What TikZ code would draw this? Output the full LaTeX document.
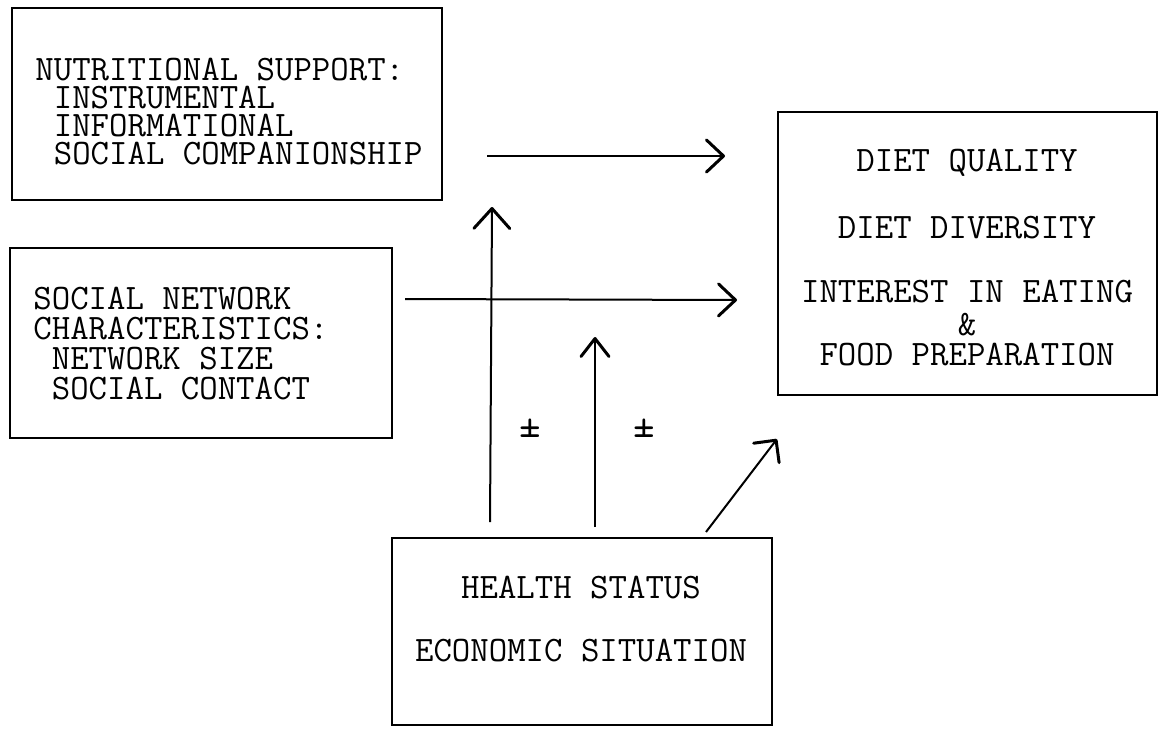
\documentclass[tikz,border=0pt]{standalone}
\usepackage{fontspec}
\usetikzlibrary{arrows.meta}
\begin{document}
\begin{tikzpicture}[x=0.5pt,y=-0.5pt,
  box/.style={draw, line width=1.2pt, inner sep=0pt},
  txt/.style={inner sep=0pt, font=\ttfamily\fontsize{17.9pt}{#1}\selectfont},
  txt/.default={14pt},
  sign/.style={inner sep=0pt, font=\ttfamily\fontsize{21pt}{21pt}\selectfont},
  link/.style={line width=1pt, -{Straight Barb[length=#1, round, line width=1.5pt]}},
  link/.default={8.5pt,width=16pt}]
\useasboundingbox (0,0) rectangle (1160,728);
% boxes
\node[box, minimum width=215pt, minimum height=96pt] (ns) at (227,104) {};
\node[box, minimum width=191pt, minimum height=95pt] (sn) at (201,343) {};
\node[box, minimum width=189.5pt, minimum height=141.5pt] (dq) at (967.5,253.5) {};
\node[box, minimum width=190pt, minimum height=93.5pt] (hs) at (582,631.5) {};
% texts
\node[txt, align=left, anchor=north west] (nstxt) at (35,58)
  {NUTRITIONAL SUPPORT:\\\phantom{N}INSTRUMENTAL\\\phantom{N}INFORMATIONAL\\\phantom{N}SOCIAL COMPANIONSHIP};
\node[txt=15pt, align=left, anchor=north west] (sntxt) at (33,287)
  {SOCIAL NETWORK\\CHARACTERISTICS:\\\phantom{N}NETWORK SIZE\\\phantom{N}SOCIAL CONTACT};
\node[txt=13pt, align=center, anchor=north] (dqtxt) at (967,149)
  {DIET QUALITY\\[18.5pt]DIET DIVERSITY\\[19pt]INTEREST IN EATING\\[3.5pt]\&\\[2pt]FOOD PREPARATION};
\node[txt=13pt, align=center, anchor=north] (hstxt) at (581,576)
  {HEALTH STATUS\\[18.5pt]ECONOMIC SITUATION};
% connector end points
\coordinate (a1s) at (487,156);
\coordinate (a1e) at (725,156);
\coordinate (a2s) at (405,299);
\coordinate (a2e) at (737,300);
\coordinate (v1s) at (490,522);
\coordinate (v1e) at (492,207);
\coordinate (v2s) at (595,527);
\coordinate (v2e) at (595,337);
\coordinate (ds) at (706,532);
\coordinate (de) at (777,439);
% connectors
\draw[link] (a1s) -- (a1e);
\draw[link] (a2s) -- (a2e);
\draw[link={10pt,width=18pt}] (v1s) -- (v1e);
\draw[link={9pt,width=14pt}] (v2s) -- (v2e);
\draw[link={8pt,width=16pt}] (ds) -- (de);
% signs
\node[sign] (pm1) at (530,428) {±};
\node[sign] (pm2) at (644,428) {±};
\end{tikzpicture}
\end{document}
